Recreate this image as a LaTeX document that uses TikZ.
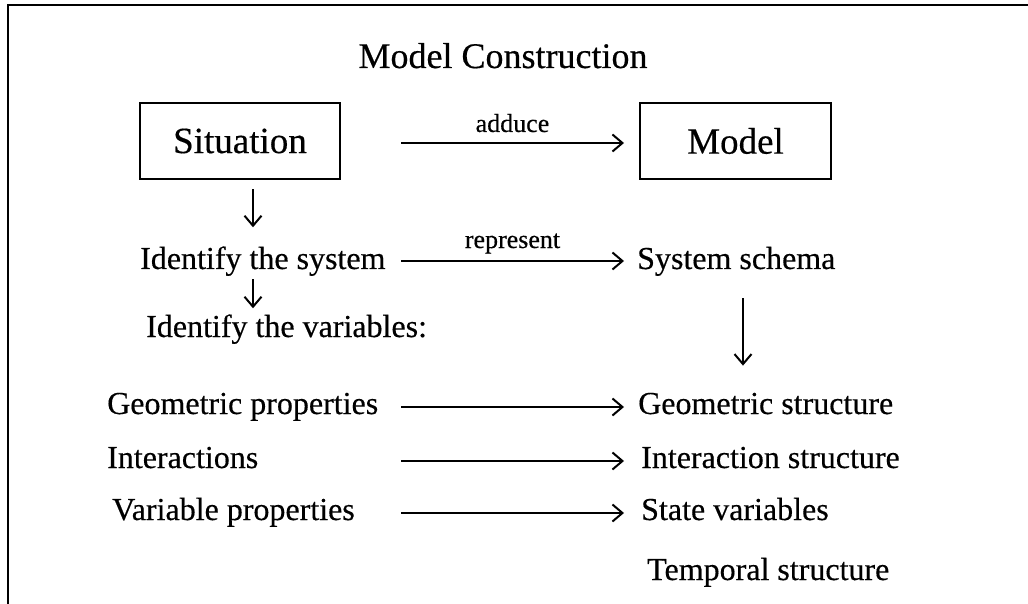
\documentclass[tikz,border=0pt]{standalone}
\usepackage{fontspec}
\setmainfont[FakeBold=0.4]{Liberation Serif}
\usetikzlibrary{arrows.meta,calc}
\begin{document}
\begin{tikzpicture}[x=1pt,y=-1pt,
  txt/.style={inner sep=0pt, anchor=base west, font=\fontsize{32}{38}\selectfont},
  lbl/.style={inner sep=0pt, anchor=base, font=\fontsize{26}{30}\selectfont},
  boxn/.style={draw, line width=2.5pt, minimum height=76pt, inner sep=0pt, font=\fontsize{37}{44}\selectfont},
  arr/.style={line width=2pt, -{Straight Barb[length=10pt,width=17pt,line width=2pt]}},
  framel/.style={line width=2.5pt}]
\useasboundingbox (0,0) rectangle (1028,604);
% frame
\draw[framel] (8,604) -- (8,5) -- (1028,5);
% title
\node[inner sep=0pt, anchor=base, font=\fontsize{36}{42}\selectfont] (title) at (503,68) {Model Construction};
% boxes
\node[boxn, minimum width=200pt] (sit) at (240,141) {\raisebox{-3pt}{Situation}};
\node[boxn, minimum width=191pt] (mod) at (735.5,141) {\raisebox{-3pt}{Model}};
% helper x positions
\coordinate (xa) at (401,0);
\coordinate (xb) at (624,0);
\coordinate (xd) at (253,0);
\coordinate (xr) at (743,0);
% left column
\node[txt] (ids) at (140,269) {Identify the system};
\node[txt] (idv) at (146,337) {Identify the variables:};
\node[txt] (gp) at (107,414) {Geometric properties};
\node[txt] (int) at (107,468) {Interactions};
\node[txt] (vp) at (112,520) {Variable properties};
% right column
\node[txt] (ss) at (637,269) {System schema};
\node[txt] (gs) at (638,414) {Geometric structure};
\node[txt] (is) at (641,468) {Interaction structure};
\node[txt] (sv) at (641,520) {State variables};
\node[txt] (ts) at (647,580) {Temporal structure};
% horizontal arrows
\draw[arr] ($(sit.east -| xa)+(0,2)$) -- ($(mod.west -| xb)+(0,2)$)
  node[lbl, midway, anchor=base, yshift=11pt] {adduce};
\draw[arr] ($(ids.base -| xa)+(0,-8)$) -- ($(ss.base -| xb)+(0,-8)$)
  node[lbl, midway, anchor=base, yshift=13pt] {represent};
\draw[arr] ($(gp.base -| xa)+(0,-7)$) -- ($(gs.base -| xb)+(0,-7)$);
\draw[arr] ($(int.base -| xa)+(0,-7)$) -- ($(is.base -| xb)+(0,-7)$);
\draw[arr] ($(vp.base -| xa)+(0,-7)$) -- ($(sv.base -| xb)+(0,-7)$);
% vertical arrows
\draw[arr] ($(sit.south -| xd)+(0,9)$) -- ($(ids.north -| xd)+(0,-19)$);
\draw[arr] ($(ids.south -| xd)+(0,3)$) -- ($(idv.north -| xd)+(0,-6)$);
\draw[arr] ($(ss.south -| xr)+(0,22)$) -- ($(gs.north -| xr)+(0,-27)$);
\end{tikzpicture}
\end{document}
